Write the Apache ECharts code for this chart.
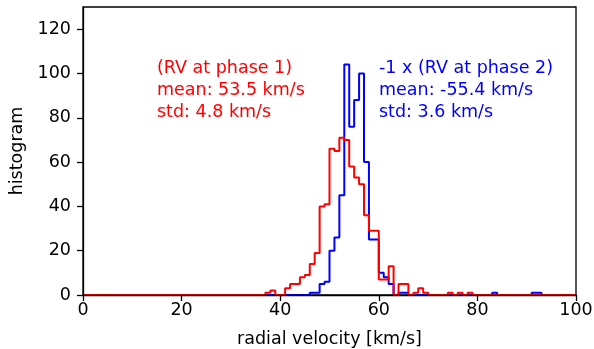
<!DOCTYPE html>
<html>
<head>
<meta charset="utf-8">
<script src="https://cdn.jsdelivr.net/npm/echarts@6/dist/echarts.min.js"></script>
<style>
  html, body { margin: 0; padding: 0; background: #fff; }
  #chart { width: 594px; height: 349px; }
</style>
</head>
<body>
<div id="chart"></div>
<script>
// Histogram bins are 1 km/s wide and cover 0..100 km/s.
const binMin = 0;
const binMax = 100;
const binWidth = 1;

// Phase 1 radial velocities: left edge of each non-empty bin and its count
const phase1Bins   = [37, 38, 41, 42, 43, 44, 45, 46, 47, 48, 49, 50, 51, 52, 53, 54, 55, 56, 57, 58, 59, 60, 61, 62, 64, 65, 67, 68, 69, 74, 76, 78];
const phase1Counts = [ 1,  2,  3,  5,  5,  8,  9, 14, 19, 40, 41, 66, 65, 71, 70, 58, 53, 50, 36, 29, 29,  7,  7, 13,  5,  5,  1,  3,  1,  1,  1,  1];

// Phase 2 radial velocities (sign flipped)
const phase2Bins   = [46, 47, 48, 49, 50, 51, 52, 53,  54, 55,  56, 57, 58, 59, 60, 61, 62, 64, 65, 83, 91, 92];
const phase2Counts = [ 1,  1,  5,  6, 20, 26, 45, 104, 76, 88, 100, 60, 25, 25, 10,  8,  5,  1,  1,  1,  1,  1];

const xTicks = [0, 20, 40, 60, 80, 100];
const yTicks = [0, 20, 40, 60, 80, 100, 120];

const phase1Text = ['(RV at phase 1)', 'mean: 53.5 km/s', 'std: 4.8 km/s'];
const phase2Text = ['-1 x (RV at phase 2)', 'mean: -55.4 km/s', 'std: 3.6 km/s'];

const FONT = '"DejaVu Sans", sans-serif';
const FS = 17.5;

// Outline of a step histogram: full counts array over all bins, then the
// staircase vertices along the bin edges.
function stepOutline(bins, counts) {
  const n = Math.round((binMax - binMin) / binWidth);
  const full = new Array(n).fill(0);
  bins.forEach((b, i) => { full[Math.round((b - binMin) / binWidth)] = counts[i]; });
  const pts = [[binMin, 0]];
  full.forEach((c, i) => {
    const lo = binMin + i * binWidth;
    pts.push([lo, c], [lo + binWidth, c]);
  });
  pts.push([binMax, 0]);
  return pts;
}

const chart = echarts.init(document.getElementById('chart'), null, { renderer: 'canvas' });

const axisCommon = {
  axisLine: { show: true, lineStyle: { color: '#000', width: 1.3 } },
  axisTick: { show: true, length: 6, lineStyle: { color: '#000', width: 1.3 } },
  splitLine: { show: false },
  nameTextStyle: { color: '#000', fontFamily: FONT, fontSize: FS }
};

chart.setOption({
  animation: false,
  backgroundColor: '#fff',
  grid: {
    left: 83, top: 7, right: 18, bottom: 54,
    outerBoundsMode: 'none', containLabel: false,
    show: true, borderColor: '#000', borderWidth: 1.3, backgroundColor: 'transparent'
  },
  xAxis: Object.assign({}, axisCommon, {
    type: 'value', min: 0, max: 100, interval: 20, z: 5,
    name: 'radial velocity [km/s]', nameLocation: 'middle', nameGap: 35,
    axisLabel: { color: '#000', fontFamily: FONT, fontSize: FS, margin: 6,
                 customValues: xTicks },
    axisTick: Object.assign({}, axisCommon.axisTick, { customValues: xTicks })
  }),
  yAxis: Object.assign({}, axisCommon, {
    type: 'value', min: 0, max: 130, interval: 20, z: 5,
    name: 'histogram', nameLocation: 'middle', nameGap: 49,
    axisLabel: { color: '#000', fontFamily: FONT, fontSize: FS, margin: 12,
                 customValues: yTicks },
    axisTick: Object.assign({}, axisCommon.axisTick, { customValues: yTicks })
  }),
  series: [
    {
      name: 'phase 2', type: 'line', data: stepOutline(phase2Bins, phase2Counts),
      showSymbol: false, symbol: 'none',
      lineStyle: { color: '#0000ff', width: 2 }, z: 2
    },
    {
      name: 'phase 1', type: 'line', data: stepOutline(phase1Bins, phase1Counts),
      showSymbol: false, symbol: 'none',
      lineStyle: { color: '#ff0000', width: 2 }, z: 3
    }
  ],
  graphic: [
    {
      type: 'text', left: 157, top: 57, z: 10,
      style: { text: phase1Text.join('\n'), fill: '#ff0000', font: FS + 'px ' + FONT, lineHeight: 22 }
    },
    {
      type: 'text', left: 379, top: 57, z: 10,
      style: { text: phase2Text.join('\n'), fill: '#0000ff', font: FS + 'px ' + FONT, lineHeight: 22 }
    }
  ]
});
</script>
</body>
</html>
